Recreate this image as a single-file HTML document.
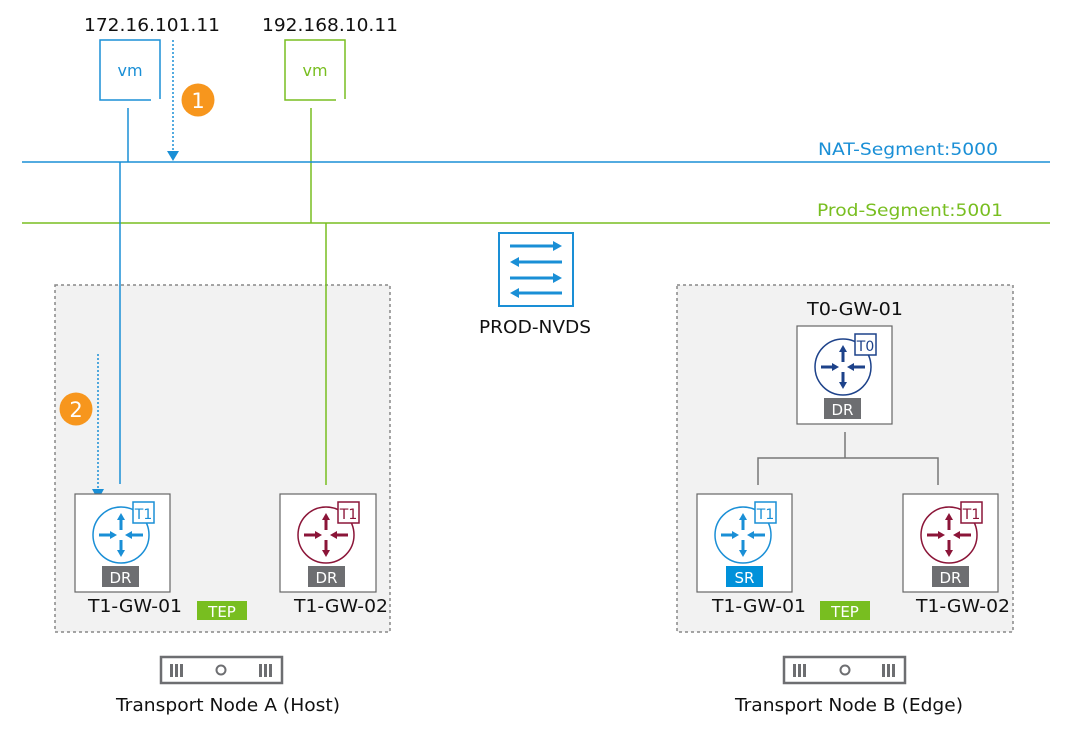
<!DOCTYPE html>
<html><head><meta charset="utf-8"><style>
html,body{margin:0;padding:0;background:#fff;}
svg{display:block;font-family:"DejaVu Sans","Liberation Sans",sans-serif;}
</style></head><body>
<svg width="1072" height="730" viewBox="0 0 1072 730" xmlns="http://www.w3.org/2000/svg">
<defs>
<g id="arrows">
  <line x1="0" y1="-5" x2="0" y2="-16" stroke-width="3"/>
  <path d="M-4,-15 L4,-15 L0,-22 z" stroke="none"/>
  <line x1="0" y1="5" x2="0" y2="16" stroke-width="3"/>
  <path d="M-4,15 L4,15 L0,22 z" stroke="none"/>
  <line x1="-22" y1="0" x2="-10" y2="0" stroke-width="3"/>
  <path d="M-11,-4 L-11,4 L-4,0 z" stroke="none"/>
  <line x1="22" y1="0" x2="10" y2="0" stroke-width="3"/>
  <path d="M11,-4 L11,4 L4,0 z" stroke="none"/>
</g>
</defs>

<rect x="55" y="285" width="335" height="347" fill="#f2f2f2" stroke="#888" stroke-width="1.5" stroke-dasharray="3,3"/>
<rect x="677" y="285" width="336" height="347" fill="#f2f2f2" stroke="#888" stroke-width="1.5" stroke-dasharray="3,3"/>

<text x="152" y="31" font-size="18" text-anchor="middle" fill="#111" textLength="136" lengthAdjust="spacingAndGlyphs">172.16.101.11</text>
<text x="330" y="31" font-size="18" text-anchor="middle" fill="#111" textLength="136" lengthAdjust="spacingAndGlyphs">192.168.10.11</text>

<path d="M151,100 L100,100 L100,40 L160,40 L160,99" fill="none" stroke="#1a8fd6" stroke-width="1.5"/>
<text x="130" y="76" font-size="16" text-anchor="middle" fill="#1a8fd6">vm</text>
<path d="M336,100 L285,100 L285,40 L345,40 L345,99" fill="none" stroke="#78be20" stroke-width="1.5"/>
<text x="315" y="76" font-size="16" text-anchor="middle" fill="#78be20">vm</text>

<line x1="128" y1="108" x2="128" y2="162" stroke="#1a8fd6" stroke-width="1.5"/>
<line x1="311" y1="108" x2="311" y2="223" stroke="#78be20" stroke-width="1.5"/>

<line x1="22" y1="162" x2="1050" y2="162" stroke="#1a8fd6" stroke-width="1.5"/>
<line x1="22" y1="223" x2="1050" y2="223" stroke="#78be20" stroke-width="1.5"/>
<text x="818" y="155" font-size="17" fill="#1a8fd6" textLength="180" lengthAdjust="spacingAndGlyphs">NAT-Segment:5000</text>
<text x="817" y="216" font-size="17" fill="#78be20" textLength="186" lengthAdjust="spacingAndGlyphs">Prod-Segment:5001</text>

<line x1="120" y1="162" x2="120" y2="484" stroke="#1a8fd6" stroke-width="1.5"/>
<line x1="326" y1="223" x2="326" y2="485" stroke="#78be20" stroke-width="1.5"/>

<line x1="173" y1="40" x2="173" y2="152" stroke="#1a8fd6" stroke-width="1.5" stroke-dasharray="2,2"/>
<path d="M167,151 L179,151 L173,161 z" fill="#1a8fd6"/>
<line x1="98" y1="354" x2="98" y2="490" stroke="#1a8fd6" stroke-width="1.5" stroke-dasharray="2,2"/>
<path d="M92,489 L104,489 L98,500 z" fill="#1a8fd6"/>

<circle cx="198" cy="100" r="16.5" fill="#f7961d"/>
<text x="198" y="108" font-size="21" text-anchor="middle" fill="#fff">1</text>
<circle cx="76" cy="409" r="16.5" fill="#f7961d"/>
<text x="76" y="417" font-size="21" text-anchor="middle" fill="#fff">2</text>

<rect x="499" y="233" width="74" height="73" fill="#fff" stroke="#1a8fd6" stroke-width="2"/>
<g stroke="#1a8fd6" fill="#1a8fd6">
  <line x1="510" y1="246" x2="555" y2="246" stroke-width="3"/><path d="M553,241 L562,246 L553,251 z" stroke="none"/>
  <line x1="517" y1="262" x2="562" y2="262" stroke-width="3"/><path d="M519,257 L510,262 L519,267 z" stroke="none"/>
  <line x1="510" y1="278" x2="555" y2="278" stroke-width="3"/><path d="M553,273 L562,278 L553,283 z" stroke="none"/>
  <line x1="517" y1="293" x2="562" y2="293" stroke-width="3"/><path d="M519,288 L510,293 L519,298 z" stroke="none"/>
</g>
<text x="535" y="333" font-size="18" text-anchor="middle" fill="#111" textLength="112" lengthAdjust="spacingAndGlyphs">PROD-NVDS</text>

<rect x="75" y="494" width="95" height="98" fill="#fff" stroke="#666" stroke-width="1.2"/>
<circle cx="121" cy="535" r="28" fill="#fff" stroke="#1a8fd6" stroke-width="1.5"/>
<use href="#arrows" x="121" y="535" stroke="#1a8fd6" fill="#1a8fd6"/>
<rect x="133" y="502" width="21" height="21" fill="#fff" stroke="#1a8fd6" stroke-width="1.5"/>
<text x="143.5" y="519" font-size="14" text-anchor="middle" fill="#1a8fd6">T1</text>
<rect x="102" y="566" width="37" height="21" fill="#6d6e71"/>
<text x="120.5" y="583" font-size="15" text-anchor="middle" fill="#fff">DR</text>
<text x="135" y="612" font-size="18" text-anchor="middle" fill="#111" textLength="94" lengthAdjust="spacingAndGlyphs">T1-GW-01</text>

<rect x="280" y="494" width="96" height="98" fill="#fff" stroke="#666" stroke-width="1.2"/>
<circle cx="326" cy="535" r="28" fill="#fff" stroke="#8b1538" stroke-width="1.5"/>
<use href="#arrows" x="326" y="535" stroke="#8b1538" fill="#8b1538"/>
<rect x="338" y="502" width="21" height="21" fill="#fff" stroke="#8b1538" stroke-width="1.5"/>
<text x="348.5" y="519" font-size="14" text-anchor="middle" fill="#8b1538">T1</text>
<rect x="308" y="566" width="37" height="21" fill="#6d6e71"/>
<text x="326.5" y="583" font-size="15" text-anchor="middle" fill="#fff">DR</text>
<text x="341" y="612" font-size="18" text-anchor="middle" fill="#111" textLength="94" lengthAdjust="spacingAndGlyphs">T1-GW-02</text>

<rect x="197" y="601" width="50" height="19" fill="#78be20"/>
<text x="222" y="617" font-size="15" text-anchor="middle" fill="#fff">TEP</text>

<text x="855" y="315" font-size="18" text-anchor="middle" fill="#111" textLength="96" lengthAdjust="spacingAndGlyphs">T0-GW-01</text>
<rect x="797" y="326" width="95" height="98" fill="#fff" stroke="#666" stroke-width="1.2"/>
<circle cx="843" cy="367" r="28" fill="#fff" stroke="#1d428a" stroke-width="1.5"/>
<use href="#arrows" x="843" y="367" stroke="#1d428a" fill="#1d428a"/>
<rect x="855" y="334" width="21" height="21" fill="#fff" stroke="#1d428a" stroke-width="1.5"/>
<text x="865.5" y="351" font-size="14" text-anchor="middle" fill="#1d428a">T0</text>
<rect x="824" y="398" width="37" height="21" fill="#6d6e71"/>
<text x="842.5" y="415" font-size="15" text-anchor="middle" fill="#fff">DR</text>

<path d="M845,432 L845,458 M758,485 L758,458 L938,458 L938,485" fill="none" stroke="#777" stroke-width="1.5"/>

<rect x="697" y="494" width="95" height="98" fill="#fff" stroke="#666" stroke-width="1.2"/>
<circle cx="743" cy="535" r="28" fill="#fff" stroke="#1a8fd6" stroke-width="1.5"/>
<use href="#arrows" x="743" y="535" stroke="#1a8fd6" fill="#1a8fd6"/>
<rect x="755" y="502" width="21" height="21" fill="#fff" stroke="#1a8fd6" stroke-width="1.5"/>
<text x="765.5" y="519" font-size="14" text-anchor="middle" fill="#1a8fd6">T1</text>
<rect x="726" y="566" width="37" height="21" fill="#0091da"/>
<text x="744.5" y="583" font-size="15" text-anchor="middle" fill="#fff">SR</text>
<text x="759" y="612" font-size="18" text-anchor="middle" fill="#111" textLength="94" lengthAdjust="spacingAndGlyphs">T1-GW-01</text>

<rect x="903" y="494" width="95" height="98" fill="#fff" stroke="#666" stroke-width="1.2"/>
<circle cx="949" cy="535" r="28" fill="#fff" stroke="#8b1538" stroke-width="1.5"/>
<use href="#arrows" x="949" y="535" stroke="#8b1538" fill="#8b1538"/>
<rect x="961" y="502" width="21" height="21" fill="#fff" stroke="#8b1538" stroke-width="1.5"/>
<text x="971.5" y="519" font-size="14" text-anchor="middle" fill="#8b1538">T1</text>
<rect x="932" y="566" width="37" height="21" fill="#6d6e71"/>
<text x="950.5" y="583" font-size="15" text-anchor="middle" fill="#fff">DR</text>
<text x="963" y="612" font-size="18" text-anchor="middle" fill="#111" textLength="94" lengthAdjust="spacingAndGlyphs">T1-GW-02</text>

<rect x="820" y="601" width="50" height="19" fill="#78be20"/>
<text x="845" y="617" font-size="15" text-anchor="middle" fill="#fff">TEP</text>

<g fill="none" stroke="#6d6e71">
  <rect x="161" y="657" width="121" height="26" stroke-width="2.5"/>
  <rect x="784" y="657" width="121" height="26" stroke-width="2.5"/>
  <circle cx="221" cy="670" r="4.5" stroke-width="2"/>
  <circle cx="845" cy="670" r="4.5" stroke-width="2"/>
</g>
<g fill="#6d6e71">
  <rect x="170" y="664" width="3" height="13"/><rect x="175" y="664" width="3" height="13"/><rect x="180" y="664" width="3" height="13"/>
  <rect x="259" y="664" width="3" height="13"/><rect x="264" y="664" width="3" height="13"/><rect x="269" y="664" width="3" height="13"/>
  <rect x="793" y="664" width="3" height="13"/><rect x="798" y="664" width="3" height="13"/><rect x="803" y="664" width="3" height="13"/>
  <rect x="882" y="664" width="3" height="13"/><rect x="887" y="664" width="3" height="13"/><rect x="892" y="664" width="3" height="13"/>
</g>
<text x="228" y="711" font-size="18" text-anchor="middle" fill="#111" textLength="224" lengthAdjust="spacingAndGlyphs">Transport Node A (Host)</text>
<text x="849" y="711" font-size="18" text-anchor="middle" fill="#111" textLength="228" lengthAdjust="spacingAndGlyphs">Transport Node B (Edge)</text>
</svg>
</body></html>
